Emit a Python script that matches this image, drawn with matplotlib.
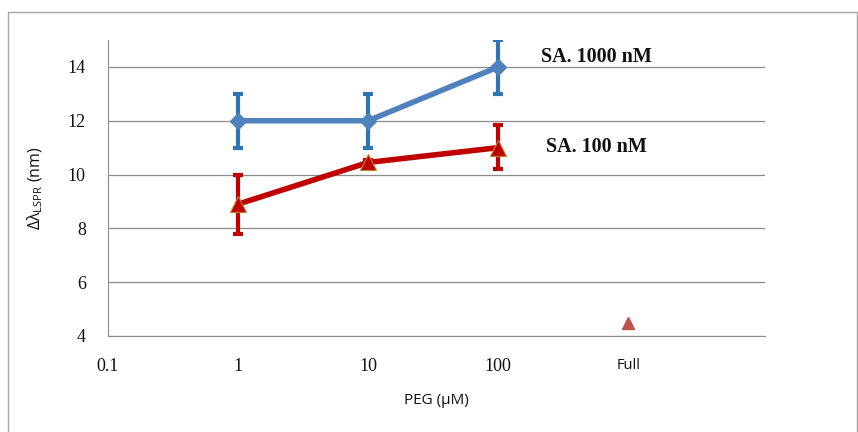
import matplotlib
matplotlib.use("Agg")
import matplotlib.pyplot as plt
from matplotlib.patches import Rectangle

plt.rcParams["mathtext.fontset"] = "custom"
plt.rcParams["mathtext.rm"] = "Open Sans"
plt.rcParams["mathtext.it"] = "Open Sans:italic"

# PEG concentration categories (evenly spaced on the axis)
tick_labels = ["0.1", "1", "10", "100", "Full"]
peg_pos = [1, 2, 3]            # 1, 10, 100 µM
full_pos = [4]

# SA 1000 nM series
sa1000 = [12.0, 12.0, 14.0]
sa1000_err = [1.0, 1.0, 1.0]

# SA 100 nM series
sa100 = [8.9, 10.45, 11.0]
sa100_err_low = [1.1, 0.1, 0.8]
sa100_err_high = [1.1, 0.1, 0.85]

# Fully covered surface point
full_val = [4.5]

fig = plt.figure(figsize=(8.58, 4.32), dpi=100)
fig.patches.append(Rectangle((8 / 858, -0.05), 0.99, 1.05 - 12 / 432,
                             transform=fig.transFigure, fill=False,
                             edgecolor="#a6a6a6", linewidth=1.0))

ax = fig.add_axes([108 / 858, 1 - 336 / 432, (765 - 108) / 858, (336 - 40) / 432])

ax.set_xlim(0, 5.05)
ax.set_ylim(4, 15)
ax.set_yticks([4, 6, 8, 10, 12, 14])
ax.set_xticks([0, 1, 2, 3, 4])
ax.set_xticklabels(tick_labels)
ax.grid(axis="y", color="#8c8c8c", linewidth=0.9)
ax.set_axisbelow(True)

for s in ["top", "right"]:
    ax.spines[s].set_visible(False)
ax.spines["left"].set_color("#8c8c8c")
ax.spines["bottom"].set_color("#8c8c8c")
ax.tick_params(length=0)

serif = {"family": "Liberation Serif", "size": 13}
for lbl in ax.get_yticklabels():
    lbl.set_fontproperties(serif)
    lbl.set_color("#111111")
for lbl in ax.get_xticklabels()[:4]:
    lbl.set_fontproperties(serif)
    lbl.set_color("#111111")
full_lbl = ax.get_xticklabels()[4]
full_lbl.set_fontfamily("Open Sans")
full_lbl.set_fontsize(10.5)
full_lbl.set_color("#111111")
ax.tick_params(axis="y", pad=16)
ax.tick_params(axis="x", pad=16)

# SA 1000 nM
ax.errorbar(peg_pos, sa1000, yerr=sa1000_err, fmt="none", ecolor="#2e75b6",
            elinewidth=3, capsize=3.5, capthick=3, zorder=3)
ax.plot(peg_pos, sa1000, color="#4f81bd", linewidth=4, marker="D",
        markersize=8, markerfacecolor="#4f81bd", markeredgecolor="#4f81bd",
        zorder=4, clip_on=False)

# SA 100 nM
ax.errorbar(peg_pos, sa100, yerr=[sa100_err_low, sa100_err_high], fmt="none",
            ecolor="#c00000", elinewidth=3, capsize=3.5, capthick=3, zorder=3)
ax.plot(peg_pos, sa100, color="#c00000", linewidth=4, marker="^",
        markersize=11, markerfacecolor="#c00000", markeredgecolor="#b8862e",
        markeredgewidth=0.8, zorder=4)

ax.plot(full_pos, full_val, linestyle="none", marker="^", markersize=9,
        color="#c0504d", zorder=4)

ax.text(3.33, 14.2, "SA. 1000 nM", fontfamily="Liberation Serif",
        fontweight="bold", fontsize=14.5, color="#111111")
ax.text(3.37, 10.85, "SA. 100 nM", fontfamily="Liberation Serif",
        fontweight="bold", fontsize=14.5, color="#111111")

ax.set_xlabel("PEG (µM)", fontfamily="Open Sans", fontsize=11, color="#111111",
              labelpad=13)
ax.set_ylabel(r"$\mathregular{\Delta\lambda_{LSPR}}$ (nm)", fontfamily="Open Sans",
              fontsize=11.5, color="#111111", labelpad=16)

fig.savefig("out.png", dpi=100)
